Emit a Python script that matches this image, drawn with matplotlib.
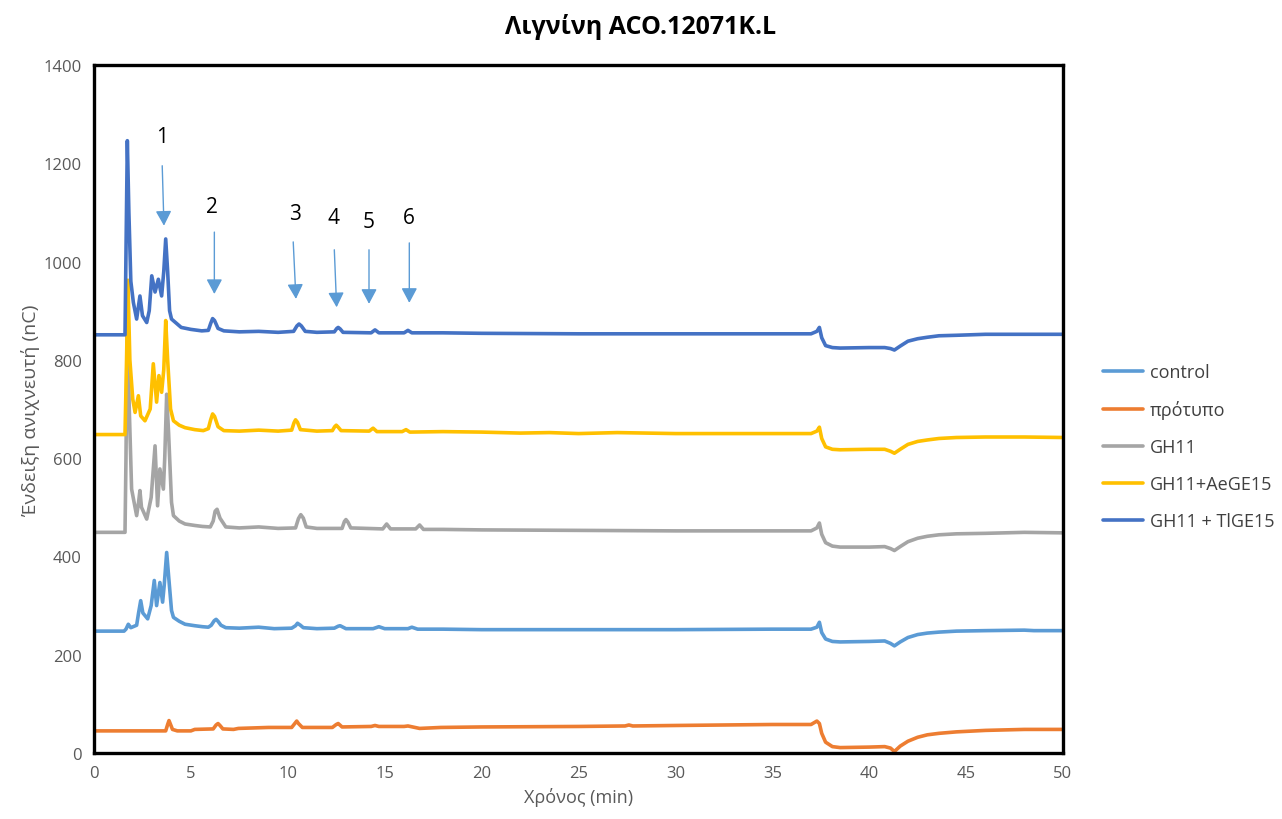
import matplotlib
matplotlib.use("Agg")
import matplotlib.pyplot as plt

plt.rcParams['font.family'] = ['Open Sans', 'DejaVu Sans']

# ---------------- data ----------------
control_t = [0, 1.55, 1.65, 1.77, 1.9, 2.2, 2.3, 2.41, 2.52, 2.77, 2.95, 3.11, 3.23, 3.4, 3.54, 3.62, 3.75,
             3.85, 4.0, 4.1, 4.4, 4.7, 5.2, 5.6, 5.9, 6.05, 6.2, 6.3, 6.4, 6.55, 6.8, 7.5, 8.5, 9.3, 10.2,
             10.4, 10.5, 10.65, 10.8, 11.5, 12.4, 12.6, 12.7, 12.85, 13.0, 14.4, 14.7, 15.0, 16.2, 16.4,
             16.7, 18, 20, 25, 30, 35, 37.0, 37.3, 37.43, 37.55, 37.75, 38.1, 38.5, 40.0, 40.8, 41.1,
             41.3, 41.6, 42.0, 42.5, 43.0, 43.6, 44.5, 46, 48, 48.5, 50]
control_y = [248, 248, 252, 262, 255, 260, 285, 310, 285, 273, 300, 351, 300, 347, 307, 340, 408,
             360, 290, 276, 268, 262, 259, 257, 256, 260, 269, 272, 268, 260, 255, 254, 256, 253, 254,
             259, 264, 260, 255, 253, 254, 258, 259, 256, 253, 253, 257, 253, 253, 256,
             252, 252, 251, 251, 251, 252, 252, 256, 266, 245, 232, 227, 226, 227, 228, 223,
             218, 226, 235, 241, 244, 246, 248, 249, 250, 249, 249]

protypo_t = [0, 3.7, 3.8, 3.87, 3.95, 4.05, 4.3, 5.0, 5.2, 6.15, 6.3, 6.4, 6.5, 6.65, 7.2, 7.45, 9.0,
             10.2, 10.38, 10.46, 10.55, 10.75, 12.3, 12.5, 12.6, 12.8, 14.3, 14.5, 14.7, 16.0, 16.2,
             16.8, 17.9, 20, 25, 27.4, 27.6, 27.8, 30, 35, 37.0, 37.3, 37.43, 37.55, 37.75, 38.1,
             38.5, 40.0, 40.8, 41.1, 41.3, 41.6, 42.0, 42.5, 43.0, 43.6, 44.5, 46, 48, 50]
protypo_y = [45, 45, 58, 66, 58, 48, 45, 45, 48, 49, 57, 60, 56, 49, 48, 50, 52,
             52, 61, 65, 60, 52, 52, 58, 60, 53, 54, 56, 54, 54, 55,
             50, 52, 53, 54, 55, 57, 55, 56, 58, 58, 65, 60, 40, 22, 13,
             11, 12, 13, 10, 3, 14, 24, 32, 37, 40, 43, 46, 48, 48]

gh11_t = [0, 1.6, 1.65, 1.72, 1.82, 1.94, 2.2, 2.3, 2.37, 2.45, 2.72, 2.95, 3.15, 3.28, 3.4, 3.58, 3.65,
          3.75, 3.85, 4.0, 4.1, 4.4, 4.7, 5.2, 5.6, 6.0, 6.15, 6.25, 6.35, 6.5, 6.8, 7.5, 8.5, 9.5, 10.4,
          10.55, 10.67, 10.8, 10.95, 11.5, 12.8, 12.92, 13.0, 13.1, 13.25, 14.9, 15.1, 15.3, 16.6,
          16.8, 17.0, 18, 20, 25, 30, 35, 37.0, 37.3, 37.43, 37.55, 37.75, 38.1, 38.5, 40.0, 40.8,
          41.1, 41.3, 41.6, 42.0, 42.5, 43.0, 43.6, 44.5, 46, 48, 50]
gh11_y = [449, 449, 600, 900, 700, 537, 483, 510, 534, 500, 476, 520, 625, 503, 578, 537, 600,
          730, 650, 510, 483, 472, 466, 463, 461, 460, 472, 492, 496, 478, 460, 458, 460, 457, 458,
          477, 485, 478, 460, 457, 457, 471, 475, 470, 458, 456, 466, 456, 456,
          464, 455, 455, 454, 453, 452, 452, 452, 458, 468, 445, 428, 421, 419, 419, 420,
          416, 412, 420, 430, 437, 441, 444, 446, 447, 449, 448]

aege_t = [0, 1.6, 1.68, 1.75, 1.85, 2.0, 2.12, 2.29, 2.41, 2.63, 2.9, 3.06, 3.23, 3.35, 3.49, 3.6, 3.7,
          3.8, 3.95, 4.1, 4.4, 4.7, 5.2, 5.64, 5.9, 6.02, 6.12, 6.22, 6.4, 6.7, 7.5, 8.5, 9.5, 10.2,
          10.32, 10.4, 10.5, 10.65, 11.5, 12.3, 12.42, 12.5, 12.6, 12.75, 14.2, 14.4, 14.6, 15.9,
          16.1, 16.3, 18, 20, 22, 23.5, 25, 27, 28.5, 30, 35, 37.0, 37.3, 37.43, 37.55, 37.75, 38.1,
          38.5, 40.0, 40.8, 41.1, 41.3, 41.6, 42.0, 42.5, 43.0, 43.6, 44.5, 46, 48, 50]
aege_y = [648, 648, 800, 962, 800, 720, 693, 727, 686, 676, 700, 792, 714, 768, 734, 780, 880,
          800, 700, 676, 667, 662, 658, 656, 660, 678, 690, 685, 664, 656, 655, 657, 655, 657,
          672, 678, 673, 658, 655, 656, 664, 667, 663, 656, 655, 661, 654, 654,
          658, 653, 654, 653, 651, 652, 650, 652, 651, 650, 650, 650, 655, 663, 640, 623, 618,
          617, 618, 618, 614, 610, 618, 628, 634, 637, 640, 642, 643, 643, 642]

tlge_t = [0, 1.6, 1.66, 1.72, 1.8, 1.9, 2.03, 2.2, 2.37, 2.5, 2.72, 2.85, 2.98, 3.15, 3.32, 3.49, 3.6,
          3.7, 3.8, 3.9, 4.0, 4.5, 5.0, 5.56, 5.9, 6.02, 6.12, 6.22, 6.4, 6.7, 7.5, 8.5, 9.5, 10.3,
          10.47, 10.58, 10.7, 10.9, 11.5, 12.4, 12.53, 12.6, 12.7, 12.85, 14.3, 14.5, 14.7, 16.0,
          16.2, 16.4, 18, 20, 25, 30, 35, 37.0, 37.3, 37.43, 37.55, 37.75, 38.1, 38.5, 40.0, 40.8,
          41.1, 41.3, 41.6, 42.0, 42.5, 43.0, 43.6, 44.5, 46, 48, 50]
tlge_y = [851, 851, 1050, 1246, 1100, 960, 917, 883, 930, 890, 876, 900, 971, 938, 964, 930, 980,
          1046, 980, 900, 883, 866, 862, 859, 860, 874, 884, 880, 864, 859, 857, 858, 856, 858,
          869, 873, 869, 858, 856, 857, 864, 866, 863, 856, 855, 861, 855, 855,
          860, 855, 855, 854, 853, 853, 853, 853, 858, 866, 845, 829, 825, 824, 825, 825,
          823, 820, 828, 838, 843, 846, 849, 850, 852, 852, 852]

series_names = ["control", "πρότυπο", "GH11", "GH11+AeGE15", "GH11 + TlGE15"]
series_colors = ["#5B9BD5", "#ED7D31", "#A5A5A5", "#FFC000", "#4472C4"]

# peak annotations: label, label position, arrow start, arrow end
peak_labels = ["1", "2", "3", "4", "5", "6"]
label_x = [3.49, 6.07, 10.37, 12.35, 14.15, 16.25]
label_y = [1255, 1112, 1097, 1090, 1081, 1090]
arrow_x0 = [3.52, 6.21, 10.28, 12.40, 14.19, 16.27]
arrow_y0 = [1195, 1060, 1040, 1024, 1024, 1038]
arrow_x1 = [3.61, 6.21, 10.42, 12.52, 14.19, 16.27]
arrow_y1 = [1073, 934, 924, 907, 914, 916]

x_ticks = list(range(0, 51, 5))
y_ticks = list(range(0, 1401, 200))

# ---------------- figure ----------------
fig = plt.figure(figsize=(12.82, 8.2), dpi=100)
ax = fig.add_axes([94 / 1282, 1 - 754 / 820, (1063 - 94) / 1282, (754 - 66) / 820])

all_t = [control_t, protypo_t, gh11_t, aege_t, tlge_t]
all_y = [control_y, protypo_y, gh11_y, aege_y, tlge_y]
for t, y, name, c in zip(all_t, all_y, series_names, series_colors):
    ax.plot(t, y, color=c, lw=2.6, label=name, solid_joinstyle='round', solid_capstyle='round')

arrow_color = "#5B9BD5"
for lab, lx, ly, x0, y0, x1, y1 in zip(peak_labels, label_x, label_y, arrow_x0, arrow_y0, arrow_x1, arrow_y1):
    ax.annotate("", xy=(x1, y1), xytext=(x0, y0),
                arrowprops=dict(arrowstyle="-|>,head_length=0.75,head_width=0.4",
                                mutation_scale=12, color=arrow_color, lw=1.0,
                                shrinkA=0, shrinkB=0))
    ax.text(lx, ly, lab, ha='center', va='center', fontsize=15, color='black')

ax.set_xlim(0, 50)
ax.set_ylim(0, 1400)
ax.set_xticks(x_ticks)
ax.set_yticks(y_ticks)
ax.tick_params(length=0, labelsize=12, colors='#595959', pad=9)
for s in ax.spines.values():
    s.set_linewidth(2.4)
    s.set_color('black')

ax.set_xlabel("Χρόνος (min)", fontsize=13, color='#595959', labelpad=4)
ax.set_ylabel("Ένδειξη ανιχνευτή (nC)", fontsize=14, color='#595959', labelpad=2)

fig.text(0.5, 1 - 27 / 820, "Λιγνίνη ACO.12071K.L", ha='center', va='center',
         fontsize=18, fontweight='bold', color='black')

leg = ax.legend(loc='center left', bbox_to_anchor=(1.025, 0.445), frameon=False,
                fontsize=13, handlelength=2.2, labelspacing=1.05, handletextpad=0.35)
for txt in leg.get_texts():
    txt.set_color('#404040')

fig.savefig("out.png", dpi=100)
